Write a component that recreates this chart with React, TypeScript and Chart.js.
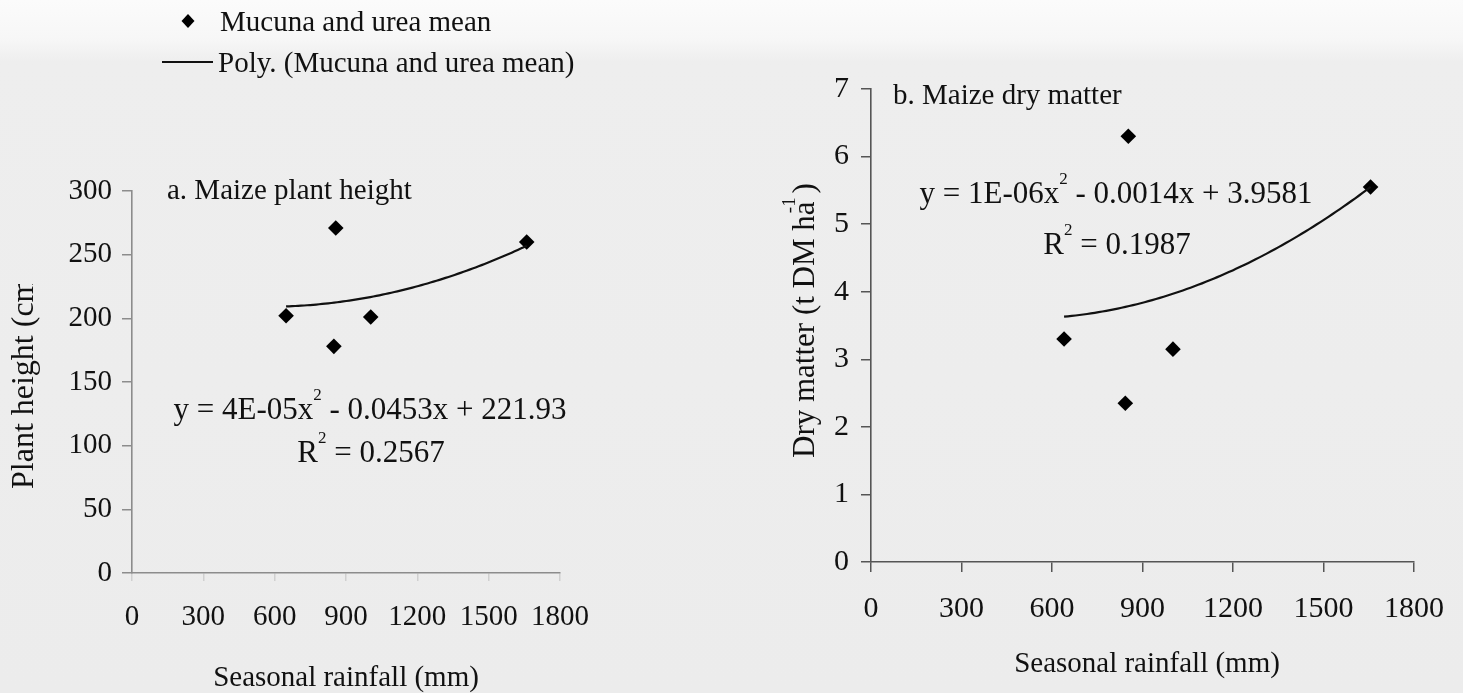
import React, { useEffect, useRef } from "react";
import { Chart, registerables } from "chart.js";

Chart.register(...registerables);

const FONT = '"Liberation Serif", "Times New Roman", serif';
const INK = "#111111";
const PAGE_W = 1463;
const PAGE_H = 693;

// Shared x axis: seasonal rainfall (mm)
const RAINFALL_RANGE = [0, 1800];
const RAINFALL_STEP = 300;

// Panel a: maize plant height (cm), Mucuna and urea mean
const HEIGHT_RAINFALL = [648, 857, 849, 1004, 1660];
const HEIGHT_CM = [202, 271, 178, 201, 260];
const HEIGHT_RANGE = [0, 300];
const HEIGHT_STEP = 50;
const HEIGHT_POLY = [4e-5, -0.0453, 221.93];
const HEIGHT_R2 = 0.2567;

// Panel b: maize dry matter (t DM/ha), Mucuna and urea mean
const DM_RAINFALL = [640, 853, 843, 1001, 1656];
const DM_T_HA = [3.3, 6.3, 2.35, 3.15, 5.55];
const DM_RANGE = [0, 7];
const DM_STEP = 1;
const DM_POLY = [1.45e-6, -0.00144, 3.9581];
const DM_R2 = 0.1987;

type Part = { text: string; sup?: boolean };

function expLabel(v: number): string {
  const [m, e] = v.toExponential(0).split("e");
  const n = parseInt(e, 10);
  return `${m}E${n < 0 ? "-" : "+"}${String(Math.abs(n)).padStart(2, "0")}`;
}

function equationParts(poly: number[]): Part[] {
  const [a, b, c] = poly;
  return [
    { text: `y = ${expLabel(a)}x` },
    { text: "2", sup: true },
    {
      text: ` ${b < 0 ? "-" : "+"} ${Math.abs(b).toFixed(4)}x ${c < 0 ? "-" : "+"} ${Math.abs(c).toPrecision(5)}`,
    },
  ];
}

function r2Parts(r2: number): Part[] {
  return [{ text: "R" }, { text: "2", sup: true }, { text: ` = ${r2.toFixed(4)}` }];
}

function drawParts(
  ctx: CanvasRenderingContext2D,
  parts: Part[],
  x: number,
  y: number,
  size: number,
  align: "left" | "center"
) {
  const supSize = Math.round(size * 0.55);
  const widthOf = (p: Part) => {
    ctx.font = `${p.sup ? supSize : size}px ${FONT}`;
    return ctx.measureText(p.text).width;
  };
  const total = parts.reduce((s, p) => s + widthOf(p), 0);
  let cx = align === "center" ? x - total / 2 : x;
  ctx.textAlign = "left";
  ctx.textBaseline = "alphabetic";
  ctx.fillStyle = INK;
  for (const p of parts) {
    const w = widthOf(p);
    ctx.fillText(p.text, cx, p.sup ? y - size * 0.6 : y);
    cx += w;
  }
}

function polyCurve(poly: number[], xs: number[]) {
  const lo = Math.min(...xs);
  const hi = Math.max(...xs);
  const n = 80;
  return Array.from({ length: n + 1 }, (_, i) => {
    const x = lo + ((hi - lo) * i) / n;
    return { x, y: poly[0] * x * x + poly[1] * x + poly[2] };
  });
}

interface PanelSpec {
  offsetX: number;
  width: number;
  area: { left: number; right: number; top: number; bottom: number };
  rain: number[];
  values: number[];
  poly: number[];
  yRange: number[];
  yStep: number;
  axisColor: string;
  xTickColor: string;
  tickSize: number;
  yTickPad: number;
  xTickPad: number;
  xTickLen: number;
  annotate: (ctx: CanvasRenderingContext2D) => void;
}

const plainNumber = (v: number | string) => String(v);

function buildConfig(spec: PanelSpec): any {
  const { area, offsetX } = spec;
  const points = spec.rain.map((x, i) => ({ x, y: spec.values[i] }));
  const tickFont = { family: FONT, size: spec.tickSize };
  return {
    type: "scatter",
    data: {
      datasets: [
        {
          data: polyCurve(spec.poly, spec.rain),
          showLine: true,
          borderColor: INK,
          borderWidth: 2.2,
          pointRadius: 0,
          pointHoverRadius: 0,
          fill: false,
        },
        {
          data: points,
          showLine: false,
          pointStyle: "rectRot",
          pointRadius: 7.8,
          backgroundColor: "#000000",
          borderWidth: 0,
        },
      ],
    },
    options: {
      responsive: false,
      animation: false,
      devicePixelRatio: 1,
      events: [],
      layout: {
        padding: {
          left: 0,
          top: area.top,
          right: spec.width - (area.right - offsetX),
          bottom: 0,
        },
      },
      plugins: {
        legend: { display: false },
        tooltip: { enabled: false },
        title: { display: false },
      },
      scales: {
        x: {
          type: "linear",
          position: "bottom",
          min: RAINFALL_RANGE[0],
          max: RAINFALL_RANGE[1],
          afterFit: (s: any) => {
            s.height = PAGE_H - area.bottom;
          },
          ticks: {
            stepSize: RAINFALL_STEP,
            autoSkip: false,
            maxRotation: 0,
            color: INK,
            font: tickFont,
            padding: spec.xTickPad,
            callback: plainNumber,
          },
          grid: {
            drawOnChartArea: false,
            drawTicks: true,
            tickLength: spec.xTickLen,
            color: spec.xTickColor,
            lineWidth: 1.5,
          },
          border: { display: true, color: spec.axisColor, width: 1.6 },
        },
        y: {
          type: "linear",
          position: "left",
          min: spec.yRange[0],
          max: spec.yRange[1],
          afterFit: (s: any) => {
            s.width = area.left - offsetX;
          },
          ticks: {
            stepSize: spec.yStep,
            autoSkip: false,
            color: INK,
            font: tickFont,
            padding: spec.yTickPad,
            callback: plainNumber,
          },
          grid: {
            drawOnChartArea: false,
            drawTicks: true,
            tickLength: 10,
            color: spec.axisColor,
            lineWidth: 1.5,
          },
          border: { display: true, color: spec.axisColor, width: 1.6 },
        },
      },
    },
    plugins: [
      {
        id: "panelText",
        afterDraw(chart: any) {
          const ctx: CanvasRenderingContext2D = chart.ctx;
          ctx.save();
          ctx.translate(-offsetX, 0);
          spec.annotate(ctx);
          ctx.restore();
        },
      },
    ],
  };
}

const LEFT_SPEC: PanelSpec = {
  offsetX: 0,
  width: 730,
  area: { left: 132, right: 560, top: 191, bottom: 573 },
  rain: HEIGHT_RAINFALL,
  values: HEIGHT_CM,
  poly: HEIGHT_POLY,
  yRange: HEIGHT_RANGE,
  yStep: HEIGHT_STEP,
  axisColor: "#8c8c8c",
  xTickColor: "#d0d0d0",
  tickSize: 29,
  yTickPad: 10,
  xTickPad: 19,
  xTickLen: 8,
  annotate: (ctx) => {
    // legend
    ctx.fillStyle = "#000";
    ctx.beginPath();
    ctx.moveTo(188, 14);
    ctx.lineTo(194.5, 21);
    ctx.lineTo(188, 28);
    ctx.lineTo(181.5, 21);
    ctx.closePath();
    ctx.fill();
    drawParts(ctx, [{ text: "Mucuna and urea mean" }], 220, 31, 29, "left");
    ctx.strokeStyle = INK;
    ctx.lineWidth = 2;
    ctx.beginPath();
    ctx.moveTo(162, 62);
    ctx.lineTo(213, 62);
    ctx.stroke();
    drawParts(ctx, [{ text: "Poly. (Mucuna and urea mean)" }], 218, 72, 29, "left");

    // panel title
    drawParts(ctx, [{ text: "a. Maize plant height" }], 167, 199, 29, "left");

    // regression label
    drawParts(ctx, equationParts(HEIGHT_POLY), 370, 419, 31, "center");
    drawParts(ctx, r2Parts(HEIGHT_R2), 371, 462, 31, "center");

    // axis titles
    drawParts(ctx, [{ text: "Seasonal rainfall (mm)" }], 346, 686, 29, "center");
    ctx.save();
    ctx.beginPath();
    ctx.rect(0, 284, 120, PAGE_H);
    ctx.clip();
    ctx.translate(33, 489);
    ctx.rotate(-Math.PI / 2);
    drawParts(ctx, [{ text: "Plant height (cm)" }], 0, 0, 32, "left");
    ctx.restore();
  },
};

const RIGHT_SPEC: PanelSpec = {
  offsetX: 730,
  width: 733,
  area: { left: 871, right: 1423, top: 89, bottom: 562 },
  rain: DM_RAINFALL,
  values: DM_T_HA,
  poly: DM_POLY,
  yRange: DM_RANGE,
  yStep: DM_STEP,
  axisColor: "#555555",
  xTickColor: "#555555",
  tickSize: 30,
  yTickPad: 12,
  xTickPad: 19,
  xTickLen: 10,
  annotate: (ctx) => {
    drawParts(ctx, [{ text: "b. Maize dry matter" }], 893, 104, 29, "left");
    drawParts(ctx, equationParts(DM_POLY), 1116, 203, 31, "center");
    drawParts(ctx, r2Parts(DM_R2), 1117, 254, 31, "center");
    drawParts(ctx, [{ text: "Seasonal rainfall (mm)" }], 1147, 672, 29, "center");

    ctx.save();
    ctx.translate(814, 458);
    ctx.rotate(-Math.PI / 2);
    const size = 31;
    ctx.font = `${size}px ${FONT}`;
    ctx.fillStyle = INK;
    ctx.textAlign = "left";
    ctx.textBaseline = "alphabetic";
    const main = "Dry matter (t DM ha";
    ctx.fillText(main, 0, 0);
    const w = ctx.measureText(main).width;
    const aW = ctx.measureText("a").width;
    ctx.font = `${Math.round(size * 0.6)}px ${FONT}`;
    ctx.fillText("-1", w - aW * 0.85, -size * 0.62);
    ctx.font = `${size}px ${FONT}`;
    ctx.fillText(")", w + 8, 0);
    ctx.restore();
  },
};

function Panel({ spec }: { spec: PanelSpec }) {
  const ref = useRef<HTMLCanvasElement | null>(null);
  useEffect(() => {
    if (!ref.current) return;
    const chart = new Chart(ref.current, buildConfig(spec));
    return () => chart.destroy();
  }, [spec]);
  return (
    <canvas
      ref={ref}
      width={spec.width}
      height={PAGE_H}
      style={{
        position: "absolute",
        left: spec.offsetX,
        top: 0,
        width: spec.width,
        height: PAGE_H,
      }}
    />
  );
}

export default function App() {
  useEffect(() => {
    document.body.style.margin = "0";
  }, []);
  return (
    <div
      style={{
        position: "fixed",
        left: 0,
        top: 0,
        width: PAGE_W,
        height: PAGE_H,
        overflow: "hidden",
        background:
          "linear-gradient(to bottom, #fbfbfb 0px, #f7f7f7 38px, #eeeeee 62px, #ececec 100%)",
      }}
    >
      <Panel spec={LEFT_SPEC} />
      <Panel spec={RIGHT_SPEC} />
    </div>
  );
}
